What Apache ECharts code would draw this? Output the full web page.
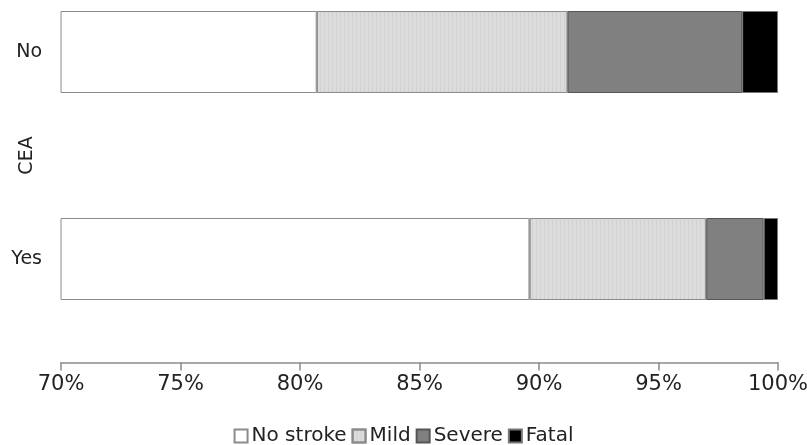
<!DOCTYPE html>
<html>
<head>
<meta charset="utf-8">
<script src="https://cdn.jsdelivr.net/npm/echarts@6/dist/echarts.min.js"></script>
<style>
html,body{margin:0;padding:0;background:#fff;}
#main{width:807px;height:445px;}
</style>
</head>
<body>
<div id="main"></div>
<script>
var categories = ['No', 'Yes'];
var seriesNames = ['No stroke', 'Mild', 'Severe', 'Fatal'];
var noStroke = [80.7, 89.6];
var mild = [10.5, 7.4];
var severe = [7.3, 2.4];
var fatal = [1.5, 0.6];
var xTicks = { min: 70, max: 100, interval: 5 };

var font = 'DejaVu Sans';
var chart = echarts.init(document.getElementById('main'));
function bar(name, data, color, border, decal) {
  var s = {
    name: name, type: 'bar', stack: 'total', data: data, barWidth: 82,
    clip: true,
    itemStyle: { color: color, borderColor: border, borderWidth: 1 },
    emphasis: { disabled: true }
  };
  if (decal) s.itemStyle.decal = decal;
  return s;
}
chart.setOption({
  animation: false,
  textStyle: { fontFamily: font },
  grid: { left: 61, right: 29, top: -51.5, bottom: 82.5, containLabel: false, outerBoundsMode: 'none' },
  legend: {
    bottom: -6, left: 'center', icon: 'rect', itemWidth: 13, itemHeight: 13, itemGap: 5,
    textStyle: { fontFamily: font, fontSize: 20, color: '#222', padding: [0, 0, 0, -1] },
    data: seriesNames
  },
  xAxis: {
    type: 'value', min: xTicks.min, max: xTicks.max, interval: xTicks.interval,
    axisLine: { show: true, lineStyle: { color: '#8a8a8a', width: 1.5 } },
    axisTick: { show: true, length: 8, lineStyle: { color: '#8a8a8a', width: 1.5 } },
    splitLine: { show: false },
    axisLabel: { formatter: '{value}%', fontFamily: font, fontSize: 21, color: '#222', margin: 12 }
  },
  yAxis: {
    type: 'category', data: categories, inverse: true,
    name: 'CEA', nameLocation: 'middle', nameRotate: 90, nameGap: 24, nameMoveOverlap: false,
    nameTextStyle: { fontFamily: font, fontSize: 19, color: '#222' },
    axisLine: { show: false }, axisTick: { show: false },
    axisLabel: { fontFamily: font, fontSize: 19, color: '#222', margin: 19 }
  },
  series: [
    bar(seriesNames[0], noStroke, '#ffffff', '#8c8c8c'),
    bar(seriesNames[1], mild, '#dcdcdc', '#8c8c8c', {
      symbol: 'rect', symbolSize: 1, dashArrayX: [1, 3], dashArrayY: [4, 0], rotation: 0,
      color: 'rgba(0,0,0,0.045)'
    }),
    bar(seriesNames[2], severe, '#808080', '#555555'),
    bar(seriesNames[3], fatal, '#000000', '#777777')
  ]
});
</script>
</body>
</html>
